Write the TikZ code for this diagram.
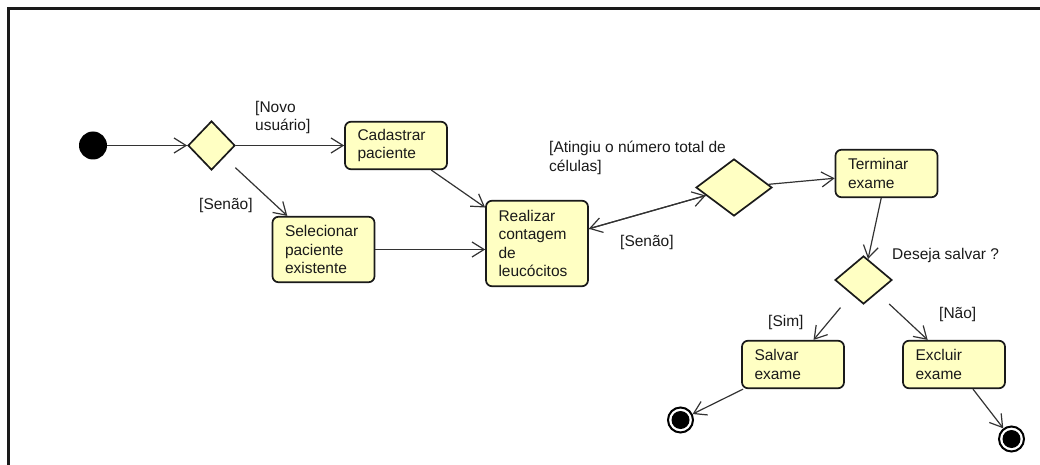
\documentclass[tikz,border=0pt]{standalone}
\usepackage{fontspec}
\setmainfont{Liberation Sans}
\usetikzlibrary{arrows.meta,shapes.geometric}
\definecolor{actfill}{HTML}{FFFFC3}
\definecolor{ink}{HTML}{1A1A1A}
\definecolor{wire}{HTML}{333333}
\begin{document}
\begin{tikzpicture}[x=1pt,y=-1pt,
  every node/.style={font=\fontsize{15.5}{18.5}\selectfont, text=ink},
  act/.style={draw=ink, line width=1.7pt, rounded corners=6pt, fill=actfill,
    minimum width=101.5pt, text width=77pt, align=left, inner xsep=12.5pt, inner ysep=0pt},
  choice/.style={diamond, draw=ink, line width=1.7pt, fill=actfill, inner sep=0pt},
  initial/.style={circle, fill=black, minimum size=28pt, inner sep=0pt},
  final/.style={circle, draw=black, line width=2pt, fill=white, minimum size=25pt, inner sep=0pt,
    path picture={\fill[black] (path picture bounding box.center) circle (9pt);}},
  guard/.style={anchor=base west, inner sep=0pt, align=left},
  flow/.style={draw=wire, line width=1.2pt, -{Straight Barb[length=12pt,width=15pt]}}
]
\useasboundingbox (0,0) rectangle (1040,465);

% diagram frame
\draw[line width=2.2pt, ink] (8.5,465) -- (8.5,8.5) -- (1040,8.5);

% nodes
\node[initial] (start) at (93,145.5) {};
\node[choice, minimum width=47pt, minimum height=49pt] (d1) at (211.5,145.5) {};
\node[act, minimum height=47.5pt] (cad) at (396,145.5) {Cadastrar\\paciente};
\node[act, minimum height=65.5pt] (sel) at (323.5,249.5) {Selecionar\\paciente\\existente};
\node[act, minimum height=85.5pt] (real) at (537,243.5) {Realizar\\contagem\\de\\leucócitos};
\node[choice, minimum width=76pt, minimum height=57pt] (d2) at (734,187.5) {};
\node[act, minimum height=47.5pt] (term) at (886.5,173.5) {Terminar\\exame};
\node[choice, minimum width=57pt, minimum height=48pt] (d3) at (863.5,280) {};
\node[act, minimum height=47.5pt] (salv) at (793,364.5) {Salvar\\exame};
\node[act, minimum height=47.5pt] (excl) at (954,364.5) {Excluir\\exame};
\node[final] (end1) at (680.5,420) {};
\node[final] (end2) at (1011.5,439) {};

% guards (base = baseline of the last line)
\node[guard] (gnovo) at (255,131) {[Novo\\usuário]};
\node[guard] (gsenao1) at (199,209) {[Senão]};
\node[guard] (gating) at (549,171.5) {[Atingiu o número total de\\células]};
\node[guard] (gsenao2) at (620,246.7) {[Senão]};
\node[guard] (gdeseja) at (892,259) {Deseja salvar ?};
\node[guard] (gsim) at (768,326) {[Sim]};
\node[guard] (gnao) at (939,318) {[Não]};

% flows
\draw[flow] (start) -- (d1);
\draw[flow] (d1) -- (cad);
\draw[flow, shorten <=15pt] (d1) -- (sel);
\draw[flow] (cad) -- (real);
\draw[flow] (sel) -- (sel -| real.west);
\draw[flow] (real) -- (d2);
\draw[flow] (d2) -- (real);
\draw[flow] (d2) -- (term);
\draw[flow] (term) -- (d3);
\draw[flow, shorten <=17pt] (d3) -- (salv);
\draw[flow, shorten <=16pt] (d3) -- (excl);
\draw[flow] (salv) -- (end1);
\draw[flow] (excl) -- (end2);
\end{tikzpicture}
\end{document}
